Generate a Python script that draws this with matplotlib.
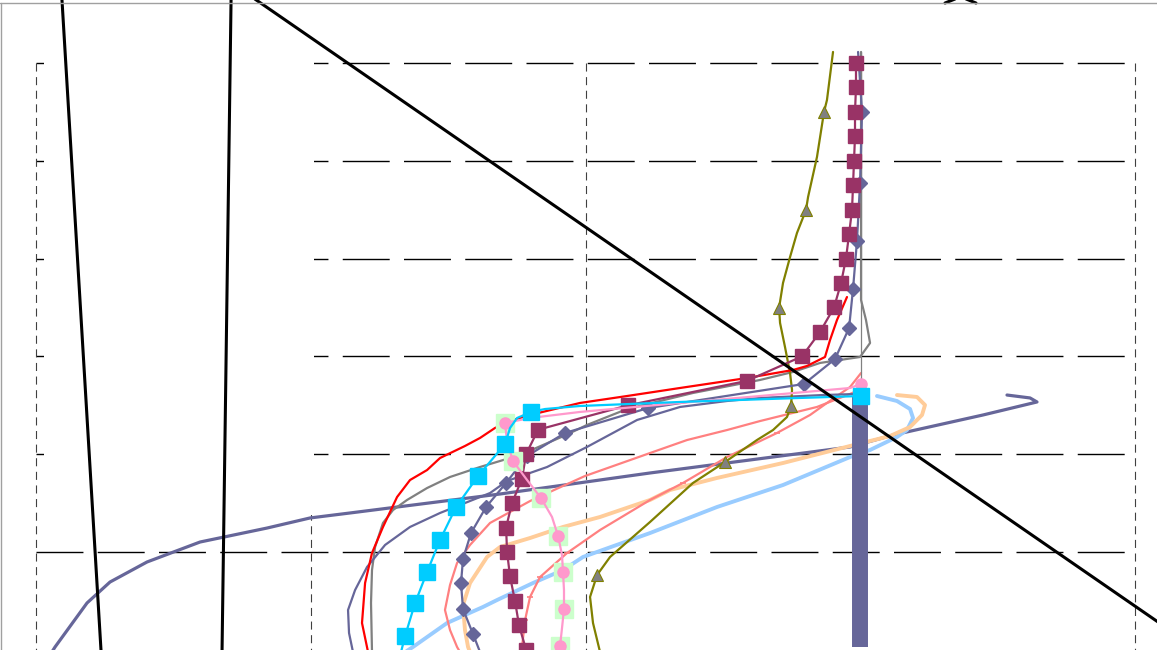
import matplotlib
matplotlib.use("Agg")
import matplotlib.pyplot as plt
from matplotlib.patches import Rectangle
from matplotlib.lines import Line2D

plt.rcParams["lines.scale_dashes"] = False
plt.rcParams["lines.solid_capstyle"] = "round"

# grid positions
X_GRID = [0, 25, 50, 100]
Y_GRID = [0, 10, 20, 30, 40, 50]

# long purple profile
long_x = [1.27, 1.73, 4.64, 6.73, 10.10, 14.92, 21.02, 24.93, 28.57, 42.22, 55.87,
          74.07, 77.98, 86.17, 91.08, 90.45, 88.35]
long_y = [-10.53, -9.71, -5.21, -3.07, -1.02, 1.02, 2.45, 3.48, 3.99, 5.93, 8.08,
          10.74, 11.96, 14.01, 15.34, 15.75, 16.05]

# red profile
red_x = [73.79, 72.88, 72.25, 71.79, 70.15, 68.88, 64.69, 58.60, 53.78, 49.50, 44.95,
         43.40, 41.76, 40.40, 39.03, 36.76, 35.58, 34.03, 32.85, 31.57, 30.57, 29.94,
         29.66, 30.21]
red_y = [26.07, 23.72, 21.68, 19.94, 19.02, 18.61, 17.79, 16.77, 15.95, 15.24, 14.01,
         13.50, 12.68, 11.66, 10.84, 9.61, 8.38, 7.36, 5.62, 2.56, -0.10, -3.17,
         -7.26, -10.23]

# gray profile
gray_x = [75.07, 75.07, 75.52, 75.89, 74.98, 71.34, 68.88, 65.88, 59.78, 53.78, 50.13,
          48.22, 44.04, 40.40, 37.67, 35.58, 33.76, 32.48, 31.57, 30.85, 30.57, 30.48,
          30.57]
gray_y = [51.13, 25.77, 23.72, 21.37, 19.94, 19.33, 18.41, 17.59, 16.26, 14.62, 12.99,
          11.96, 9.92, 8.69, 7.67, 6.54, 5.32, 4.29, 2.97, 0.51, -1.84, -5.21, -10.23]

# thin gray reference
ref_x = [75.07, 75.07]
ref_y = [51.13, 17.08]

# maroon squares
maroon_y = [50, 47.5, 45, 42.5, 40, 37.5, 35, 32.5, 30, 27.5, 25, 22.5, 20, 17.5, 15,
            12.5, 10, 7.5, 5, 2.5, 0, -2.5, -5, -7.5, -10]
maroon_x = [74.61, 74.61, 74.52, 74.52, 74.43, 74.34, 74.25, 73.98, 73.70, 73.25, 72.61,
            71.34, 69.70, 64.69, 53.87, 45.68, 44.59, 44.22, 43.31, 42.77, 42.86, 43.13,
            43.58, 43.95, 44.59]

# purple diamonds
dia_x = [74.80, 75.16, 74.98, 74.70, 74.34, 73.98, 72.70, 69.88, 55.69, 48.13, 44.68,
         42.77, 40.95, 39.58, 38.85, 38.67, 38.85, 39.76, 40.40]
dia_y = [51.13, 44.99, 37.73, 31.80, 26.89, 22.90, 19.73, 17.18, 14.72, 12.17, 9.82,
         7.06, 4.60, 1.94, -0.72, -3.17, -5.83, -8.38, -10.23]
dia_marks = list(range(1, 18))

# purple plain profile
plain_x = [74.80, 71.61, 65.88, 62.87, 58.60, 54.69, 50.13, 46.50, 42.86, 41.31, 36.76,
           34.03, 31.76, 30.12, 29.03, 28.39, 28.48, 28.84]
plain_y = [16.16, 16.05, 15.75, 15.44, 14.83, 13.50, 10.74, 8.69, 7.26, 6.03, 3.99,
           2.56, 0.72, -1.53, -3.89, -5.93, -8.28, -10.23]

# salmon profiles
salA_x = [75.07, 74.07, 71.06, 65.88, 62.87, 59.24, 55.87, 49.95, 45.95, 44.95, 41.31,
          39.49, 38.31, 37.67, 37.21, 37.67, 38.31, 38.58]
salA_y = [16.67, 16.16, 14.83, 13.39, 12.47, 11.45, 10.12, 7.77, 5.73, 5.21, 2.97,
          0.72, -1.12, -3.37, -5.93, -7.98, -9.71, -10.23]
salB_x = [75.07, 74.07, 71.97, 70.43, 67.42, 62.87, 58.87, 55.87, 51.32, 48.32, 45.86,
          44.95, 44.50, 44.22, 44.13]
salB_y = [18.30, 16.87, 15.24, 14.01, 12.17, 9.71, 7.06, 5.32, 2.25, -0.10, -2.56,
          -4.60, -6.95, -9.71, -10.23]

# orange profile
orange_x = [78.34, 80.16, 80.89, 80.62, 79.53, 77.71, 74.07, 67.97, 61.96, 57.69, 55.87,
            51.32, 47.95, 44.95, 42.22, 41.04, 39.49, 38.85, 39.03, 39.31, 39.49]
orange_y = [16.05, 15.85, 15.03, 14.01, 12.78, 11.86, 10.84, 9.10, 7.57, 6.34, 5.32,
            3.58, 2.56, 1.43, 0.51, -0.51, -3.17, -5.42, -7.98, -9.71, -10.23]

# light blue profile
blue_x = [76.52, 78.34, 79.53, 79.80, 79.25, 78.34, 75.89, 74.07, 67.97, 61.96, 55.87,
          49.77, 47.95, 45.22, 41.95, 40.67, 37.40, 34.30, 33.58]
blue_y = [15.95, 15.44, 14.62, 13.70, 12.47, 11.76, 10.43, 9.71, 6.85, 4.60, 1.94,
          -0.51, -1.84, -3.17, -4.91, -5.62, -7.26, -9.71, -10.23]

# olive profile with triangles
olive_x = [72.52, 71.97, 71.70, 71.06, 70.25, 70.06, 69.24, 68.61, 67.97, 67.61, 67.70,
           68.15, 68.61, 68.79, 68.70, 68.33, 67.06, 65.60, 62.69, 59.78, 55.87, 52.23,
           51.05, 50.41, 50.68, 51.32]
olive_y = [51.13, 46.22, 44.99, 40.39, 36.30, 34.97, 32.62, 30.16, 27.51, 24.95, 23.42,
           20.96, 18.30, 16.56, 14.93, 13.80, 12.47, 11.45, 9.20, 7.06, 3.07, -0.51,
           -2.35, -4.60, -7.26, -10.23]
olive_marks = [2, 5, 9, 14, 18, 22]

# cyan squares
cyan_x = [75.07, 69.52, 58.60, 49.50, 46.31, 45.04, 43.77, 43.13, 42.68, 40.22, 38.22,
          36.76, 35.58, 34.49, 33.58, 33.21]
cyan_y = [15.95, 15.75, 15.34, 14.93, 14.62, 14.32, 13.70, 12.68, 11.04, 7.77, 4.60,
          1.23, -2.05, -5.21, -8.59, -10.23]
cyan_marks = [0, 5, 8, 9, 10, 11, 12, 13, 14]

# pink circles
pink_x = [75.07, 74.07, 65.88, 58.60, 49.50, 44.95, 42.68, 42.86, 43.40, 44.68, 45.95,
          46.95, 47.50, 47.86, 47.95, 48.04, 48.04, 47.86, 47.68, 47.59]
pink_y = [17.18, 16.77, 15.95, 15.24, 14.32, 13.70, 13.19, 11.25, 9.30, 7.36, 5.52,
          3.58, 1.64, -0.31, -2.05, -3.89, -5.83, -7.77, -9.61, -10.23]
pink_marks = [0, 6, 8, 10, 12, 14, 16, 18]
green_marks = [6, 8, 10, 12, 14, 16, 18]

# dense column at x = 75
column_x = [74.98, 74.98]
column_y = [15.95, -9.71]

# straight black traces
trace1_x, trace1_y = [2.25, 6.02], [58.5, -12.1]
trace2_x, trace2_y = [17.77, 16.90], [58.5, -12.1]
trace3_x, trace3_y = [17.38, 105.0], [58.5, -9.41]
cap_left_x, cap_left_y = [82.71, 83.62], [56.13, 56.54]
cap_right_x, cap_right_y = [84.63, 85.53], [56.54, 56.13]

fig = plt.figure(figsize=(11.57, 6.5), dpi=100)
ax = fig.add_axes([0, 0, 1, 1])
ax.set_xlim(-3.28, 102.0)
ax.set_ylim(-10.02, 56.44)
ax.axis("off")

# grid
for y in Y_GRID:
    ax.plot([0, 100], [y, y], color="black", lw=1.0, dashes=(33.8, 10.3),
            solid_capstyle="butt", dash_capstyle="butt", zorder=1)
for x in X_GRID:
    ax.plot([x, x], [50, -10.02], color="#404040", lw=0.8, dashes=(5.8, 4.0),
            dash_capstyle="butt", zorder=1)

ax.add_patch(Rectangle((0.73, 3.78), 25.3 - 0.73, 56.6 - 3.78,
                       facecolor="white", edgecolor="none", zorder=1.5))

ax.plot(long_x, long_y, color="#666699", lw=2.3, zorder=2)
ax.plot(blue_x, blue_y, color="#99ccff", lw=2.8, zorder=2)
ax.plot(orange_x, orange_y, color="#ffcc99", lw=2.8, zorder=2)
ax.plot(salA_x, salA_y, color="#ff8080", lw=1.6, zorder=2)
ax.plot(salB_x, salB_y, color="#ff8080", lw=1.6, marker="_", ms=4, mew=1.2,
        markevery=[4, 6, 9, 10, 11, 12], zorder=2)
ax.plot(olive_x, olive_y, color="#808000", lw=1.6, marker="^", ms=9,
        mfc="#808080", mec="#808000", mew=0.8, markevery=olive_marks, zorder=2.2)
ax.plot(ref_x, ref_y, color="#808080", lw=0.9, zorder=2)
ax.plot(gray_x, gray_y, color="#808080", lw=1.6, zorder=2.1)
ax.plot(plain_x, plain_y, color="#666699", lw=1.6, zorder=2.1)
ax.plot(dia_x, dia_y, color="#666699", lw=1.6, marker="D", ms=7.5,
        markevery=dia_marks, zorder=2.3)
ax.plot(red_x, red_y, color="#ff0000", lw=1.6, zorder=2.3)
ax.plot(maroon_x, maroon_y, color="#993366", lw=1.6, marker="s", ms=9.5,
        zorder=2.4)
ax.plot([pink_x[i] for i in green_marks], [pink_y[i] for i in green_marks],
        ls="none", marker="s", ms=12.5, color="#ccffcc", zorder=2.45)
ax.plot(pink_x, pink_y, color="#ff99cc", lw=1.6, marker="o", ms=8,
        markevery=pink_marks, zorder=2.5)
ax.plot(column_x, column_y, color="#666699", lw=11.5, solid_capstyle="butt",
        zorder=2.6)
ax.plot(cyan_x, cyan_y, color="#00ccff", lw=1.6, marker="s", ms=11.5,
        markevery=cyan_marks, zorder=2.7)

for tx, ty in [(trace1_x, trace1_y), (trace2_x, trace2_y), (trace3_x, trace3_y),
               (cap_left_x, cap_left_y), (cap_right_x, cap_right_y)]:
    ax.plot(tx, ty, color="black", lw=2.2, zorder=5)

# outer frame
fig.add_artist(Line2D([0, 1], [1 - 3.3 / 650] * 2, transform=fig.transFigure,
                      color="#a0a0a0", lw=1.0, zorder=6))
fig.add_artist(Line2D([0.7 / 1157] * 2, [0, 1 - 3.3 / 650], transform=fig.transFigure,
                      color="#a0a0a0", lw=1.0, zorder=6))

fig.savefig("out.png", dpi=100, facecolor="white")
